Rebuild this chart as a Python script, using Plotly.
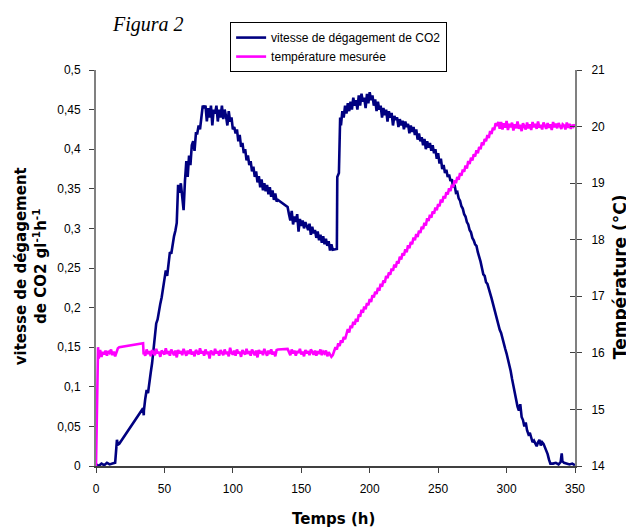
import plotly.graph_objects as go

# ---------------- data ----------------
# CO2 release rate (g l-1 h-1) ; times in hours
co2_early_h = [0, 2, 4, 6, 8, 10, 12, 14, 15.3, 16, 17, 34.4, 34.9]
co2_early = [0.002, 0.0, 0.003, 0.001, 0.004, 0.002, 0.003, 0.004, 0.033, 0.027, 0.028, 0.073, 0.064]

co2_a_start = 35  # hourly readings 35..132
co2_a = [0.070, 0.085, 0.096, 0.092, 0.109, 0.118, 0.130, 0.145, 0.160, 0.180,
         0.185, 0.198, 0.205, 0.213, 0.225, 0.232, 0.247, 0.240, 0.258, 0.270,
         0.268, 0.280, 0.290, 0.297, 0.307, 0.355, 0.345, 0.357, 0.340, 0.323,
         0.360, 0.385, 0.365, 0.392, 0.380, 0.405, 0.410, 0.398, 0.420, 0.420,
         0.430, 0.425, 0.440, 0.455, 0.452, 0.455, 0.435, 0.452, 0.440, 0.455,
         0.430, 0.450, 0.445, 0.455, 0.435, 0.450, 0.440, 0.455, 0.438, 0.450,
         0.442, 0.430, 0.448, 0.435, 0.440, 0.425, 0.428, 0.420, 0.425, 0.410,
         0.418, 0.403, 0.408, 0.395, 0.400, 0.386, 0.392, 0.380, 0.385, 0.372,
         0.378, 0.365, 0.372, 0.358, 0.366, 0.352, 0.362, 0.348, 0.357, 0.347,
         0.355, 0.343, 0.352, 0.340, 0.348, 0.336, 0.344, 0.334]

co2_gap_h = [133, 140]
co2_gap = [0.336, 0.327]

co2_b_start = 141  # hourly readings 141..173
co2_b = [0.318, 0.310, 0.322, 0.305, 0.315, 0.308, 0.318, 0.296, 0.312, 0.303,
         0.310, 0.300, 0.308, 0.302, 0.298, 0.306, 0.292, 0.302, 0.294, 0.298,
         0.288, 0.296, 0.285, 0.292, 0.282, 0.290, 0.280, 0.287, 0.278, 0.284,
         0.272, 0.280, 0.273]

co2_jump_h = [176, 176.3, 177.5, 178.4]
co2_jump = [0.274, 0.365, 0.370, 0.440]

co2_c_start = 179  # hourly readings 179..332
co2_c = [0.430, 0.448, 0.440, 0.455, 0.445, 0.458, 0.448, 0.460, 0.450, 0.465,
         0.455, 0.462, 0.450, 0.468, 0.455, 0.470, 0.460, 0.465, 0.452, 0.470,
         0.458, 0.472, 0.462, 0.468, 0.455, 0.463, 0.448, 0.460, 0.450, 0.455,
         0.440, 0.452, 0.443, 0.450, 0.435, 0.448, 0.440, 0.446, 0.430, 0.442,
         0.437, 0.440, 0.428, 0.438, 0.430, 0.436, 0.425, 0.435, 0.428, 0.432,
         0.420, 0.430, 0.422, 0.428, 0.418, 0.425, 0.412, 0.420, 0.410, 0.415,
         0.405, 0.413, 0.400, 0.410, 0.402, 0.408, 0.398, 0.405, 0.395, 0.400,
         0.388, 0.395, 0.382, 0.388, 0.375, 0.380, 0.370, 0.374, 0.365, 0.368,
         0.360, 0.362, 0.352, 0.355, 0.345, 0.346, 0.338, 0.335, 0.328, 0.325,
         0.318, 0.315, 0.308, 0.305, 0.298, 0.295, 0.288, 0.285, 0.280, 0.278,
         0.270, 0.265, 0.258, 0.250, 0.242, 0.240, 0.232, 0.230, 0.222, 0.218,
         0.212, 0.205, 0.200, 0.192, 0.184, 0.180, 0.172, 0.168, 0.160, 0.155,
         0.148, 0.142, 0.135, 0.128, 0.120, 0.110, 0.100, 0.092, 0.085, 0.075,
         0.070, 0.078, 0.062, 0.058, 0.050, 0.055, 0.045, 0.040, 0.042, 0.035,
         0.030, 0.032, 0.028, 0.025, 0.030, 0.033, 0.026, 0.030, 0.028, 0.024,
         0.020, 0.015, 0.008, 0.003]

co2_tail_h = [334, 336, 338, 339.5, 340.3, 340.8, 342, 344, 346, 348, 350]
co2_tail = [0.003, 0.004, 0.002, 0.005, 0.016, 0.006, 0.004, 0.003, 0.002, 0.003, 0.001]

# Measured temperature (°C)
temp_early_h = [0, 1.5]
temp_early = [14.0, 16.1]

temp_a_start = 2  # hourly readings 2..17
temp_a = [15.90, 16.05, 15.93, 16.02, 15.97, 16.04, 15.95, 16.03, 16.00, 16.06,
          15.96, 16.02, 15.94, 16.03, 16.08, 16.10]

temp_gap1_h = [34.4, 34.8]
temp_gap1 = [16.17, 15.97]

temp_b_start = 35  # hourly readings 35..132
temp_b = [16.00, 15.95, 16.06, 15.98, 16.03, 15.94, 16.05, 16.00, 15.96, 16.07,
          15.99, 16.02, 15.93, 16.04, 16.00, 15.97, 16.08, 15.98, 16.03, 15.95,
          16.06, 16.01, 15.96, 16.04, 15.92, 16.05, 15.99, 16.03, 15.96, 16.07,
          16.00, 15.95, 16.04, 15.98, 16.06, 15.97, 16.02, 15.94, 16.05, 16.00,
          15.97, 16.08, 15.99, 16.03, 15.95, 16.06, 15.98, 16.02, 15.90, 16.04,
          16.00, 15.96, 16.07, 15.99, 16.03, 15.95, 16.05, 16.01, 15.96, 16.06,
          15.98, 16.02, 15.94, 16.09, 16.00, 15.97, 16.04, 15.95, 16.06, 15.99,
          16.02, 15.93, 16.05, 16.00, 15.97, 16.07, 15.98, 16.03, 15.95, 16.06,
          16.01, 15.96, 16.04, 15.92, 16.05, 15.99, 16.03, 15.96, 16.07, 16.00,
          15.95, 16.04, 15.98, 16.06, 15.97, 16.02, 15.94, 16.05]

temp_gap2_h = [133, 140]
temp_gap2 = [16.06, 16.07]

temp_c_start = 141  # hourly readings 141..173
temp_c = [16.02, 15.96, 16.06, 15.99, 16.04, 15.95, 16.03, 16.00, 16.07, 15.97,
          16.02, 15.94, 16.05, 15.99, 16.03, 15.96, 16.06, 16.00, 15.97, 16.04,
          15.95, 16.03, 15.98, 16.06, 15.96, 16.02, 15.99, 16.04, 15.94, 16.01,
          15.97, 15.93, 15.96]

temp_d_start = 174  # hourly readings 174..294 (heating ramp)
temp_d = [16.02, 16.10, 16.06, 16.17, 16.12, 16.22, 16.18, 16.28, 16.24, 16.36,
          16.42, 16.36, 16.48, 16.44, 16.55, 16.50, 16.60, 16.55, 16.68, 16.64,
          16.76, 16.71, 16.82, 16.77, 16.88, 16.84, 16.95, 16.90, 17.02, 16.98,
          17.08, 17.04, 17.15, 17.10, 17.22, 17.17, 17.28, 17.24, 17.36, 17.32,
          17.42, 17.38, 17.49, 17.45, 17.56, 17.51, 17.62, 17.58, 17.70, 17.65,
          17.76, 17.72, 17.83, 17.78, 17.90, 17.85, 17.96, 17.92, 18.04, 17.99,
          18.10, 18.05, 18.16, 18.12, 18.23, 18.19, 18.30, 18.25, 18.38, 18.33,
          18.44, 18.39, 18.50, 18.46, 18.57, 18.52, 18.63, 18.59, 18.71, 18.66,
          18.77, 18.73, 18.84, 18.80, 18.91, 18.86, 18.97, 18.93, 19.05, 19.00,
          19.11, 19.06, 19.18, 19.13, 19.24, 19.20, 19.31, 19.26, 19.39, 19.34,
          19.45, 19.40, 19.51, 19.47, 19.58, 19.53, 19.64, 19.60, 19.72, 19.67,
          19.78, 19.74, 19.85, 19.80, 19.92, 19.87, 19.98, 19.94, 20.06, 20.01,
          20.08]

temp_e_start = 295  # hourly readings 295..350 (plateau)
temp_e = [19.96, 20.08, 19.95, 20.06, 19.98, 20.10, 19.94, 20.05, 19.99, 20.07,
          19.93, 20.04, 19.97, 20.09, 19.96, 20.03, 19.92, 20.06, 20.00, 19.95,
          20.07, 19.97, 20.04, 19.94, 20.08, 19.99, 20.05, 19.96, 20.09, 19.98,
          20.03, 19.95, 20.07, 20.00, 19.96, 20.06, 19.98, 20.04, 19.94, 20.08,
          19.99, 20.05, 19.97, 20.06, 20.01, 19.96, 20.04, 20.02, 19.95, 20.07,
          19.98, 20.05, 19.96, 20.03, 20.00, 20.04]

x_ticks = [0, 50, 100, 150, 200, 250, 300, 350]
y1_ticks = [0, 0.05, 0.1, 0.15, 0.2, 0.25, 0.3, 0.35, 0.4, 0.45, 0.5]
y1_ticktext = ["0", "0,05", "0,1", "0,15", "0,2", "0,25", "0,3", "0,35", "0,4", "0,45", "0,5"]
y2_ticks = [14, 15, 16, 17, 18, 19, 20, 21]


def hourly(start, vals):
    return [start + i for i in range(len(vals))]


co2_h = (co2_early_h + hourly(co2_a_start, co2_a) + co2_gap_h + hourly(co2_b_start, co2_b)
         + co2_jump_h + hourly(co2_c_start, co2_c) + co2_tail_h)
co2_v = co2_early + co2_a + co2_gap + co2_b + co2_jump + co2_c + co2_tail

temp_h = (temp_early_h + hourly(temp_a_start, temp_a) + temp_gap1_h + hourly(temp_b_start, temp_b)
          + temp_gap2_h + hourly(temp_c_start, temp_c) + hourly(temp_d_start, temp_d)
          + hourly(temp_e_start, temp_e))
temp_v = temp_early + temp_a + temp_gap1 + temp_b + temp_gap2 + temp_c + temp_d + temp_e

assert len(co2_h) == len(co2_v)
assert len(temp_h) == len(temp_v)

# ---------------- figure ----------------
NAVY = "#000080"
PINK = "#FF00FF"
TICKFONT = dict(family="Liberation Sans, Arial, sans-serif", size=12, color="black")

fig = go.Figure()
fig.add_trace(go.Scatter(x=co2_h, y=co2_v, mode="lines", name="vitesse de dégagement de CO2",
                         line=dict(color=NAVY, width=2.6), yaxis="y"))
fig.add_trace(go.Scatter(x=temp_h, y=temp_v, mode="lines", name="température mesurée",
                         line=dict(color=PINK, width=2.6), yaxis="y2"))
# invisible helper so the right axis can also carry short inner ticks (crossing ticks)
fig.add_trace(go.Scatter(x=[None], y=[None], yaxis="y3", showlegend=False,
                         hoverinfo="skip", mode="lines"))

fig.update_layout(
    width=634, height=529,
    margin=dict(l=88, r=67, t=62, b=71),
    paper_bgcolor="white", plot_bgcolor="white",
    showlegend=True,
    legend=dict(x=0.28, xanchor="left", y=1.121, yanchor="top",
                bgcolor="white", bordercolor="black", borderwidth=1,
                font=dict(family="Liberation Sans, Arial, sans-serif", size=12, color="black"),
                entrywidth=253, entrywidthmode="pixels", tracegroupgap=0),
    xaxis=dict(range=[0, 350], tickvals=x_ticks, ticks="outside", ticklen=5,
               tickcolor="#404040", showline=True, linecolor="#404040", linewidth=1.5,
               showgrid=False, zeroline=False, tickfont=TICKFONT, ticklabelstandoff=6),
    yaxis=dict(range=[0, 0.5], tickvals=y1_ticks, ticktext=y1_ticktext, ticks="outside",
               ticklen=5, tickcolor="#404040", showline=True, linecolor="#808080", linewidth=2,
               showgrid=False, zeroline=False, tickfont=TICKFONT, ticklabelstandoff=6),
    yaxis2=dict(range=[14, 21], tickvals=y2_ticks, overlaying="y", side="right",
                ticks="outside", ticklen=5, tickcolor="#404040", showline=True,
                linecolor="#808080", linewidth=2, showgrid=False, zeroline=False,
                tickfont=TICKFONT, ticklabelstandoff=7),
    yaxis3=dict(range=[14, 21], tickvals=y2_ticks, overlaying="y", side="right",
                ticks="inside", ticklen=5, tickcolor="#404040", showline=False,
                showticklabels=False, showgrid=False, zeroline=False),
    annotations=[
        dict(text="<i>Figura 2</i>", xref="paper", yref="paper", x=0.029, y=1.116,
             xanchor="left", yanchor="middle", showarrow=False,
             font=dict(family="Liberation Serif, Times New Roman, serif", size=20, color="black")),
        dict(text="<b>vitesse de dégagement<br>de CO2 gl<sup>-1</sup>h<sup>-1</sup></b>",
             xref="paper", yref="paper", x=-0.134, y=0.504, xanchor="center", yanchor="middle",
             textangle=-90, showarrow=False,
             font=dict(family="DejaVu Sans, sans-serif", size=15, color="black")),
        dict(text="<b>Température (°C)</b>", xref="paper", yref="paper", x=1.094, y=0.477,
             xanchor="center", yanchor="middle", textangle=-90, showarrow=False,
             font=dict(family="DejaVu Sans, sans-serif", size=17, color="black")),
        dict(text="<b>Temps (h)</b>", xref="paper", yref="paper", x=0.495, y=-0.133,
             xanchor="center", yanchor="middle", showarrow=False,
             font=dict(family="DejaVu Sans, sans-serif", size=15, color="black")),
    ],
)

fig.write_html("out.html")
